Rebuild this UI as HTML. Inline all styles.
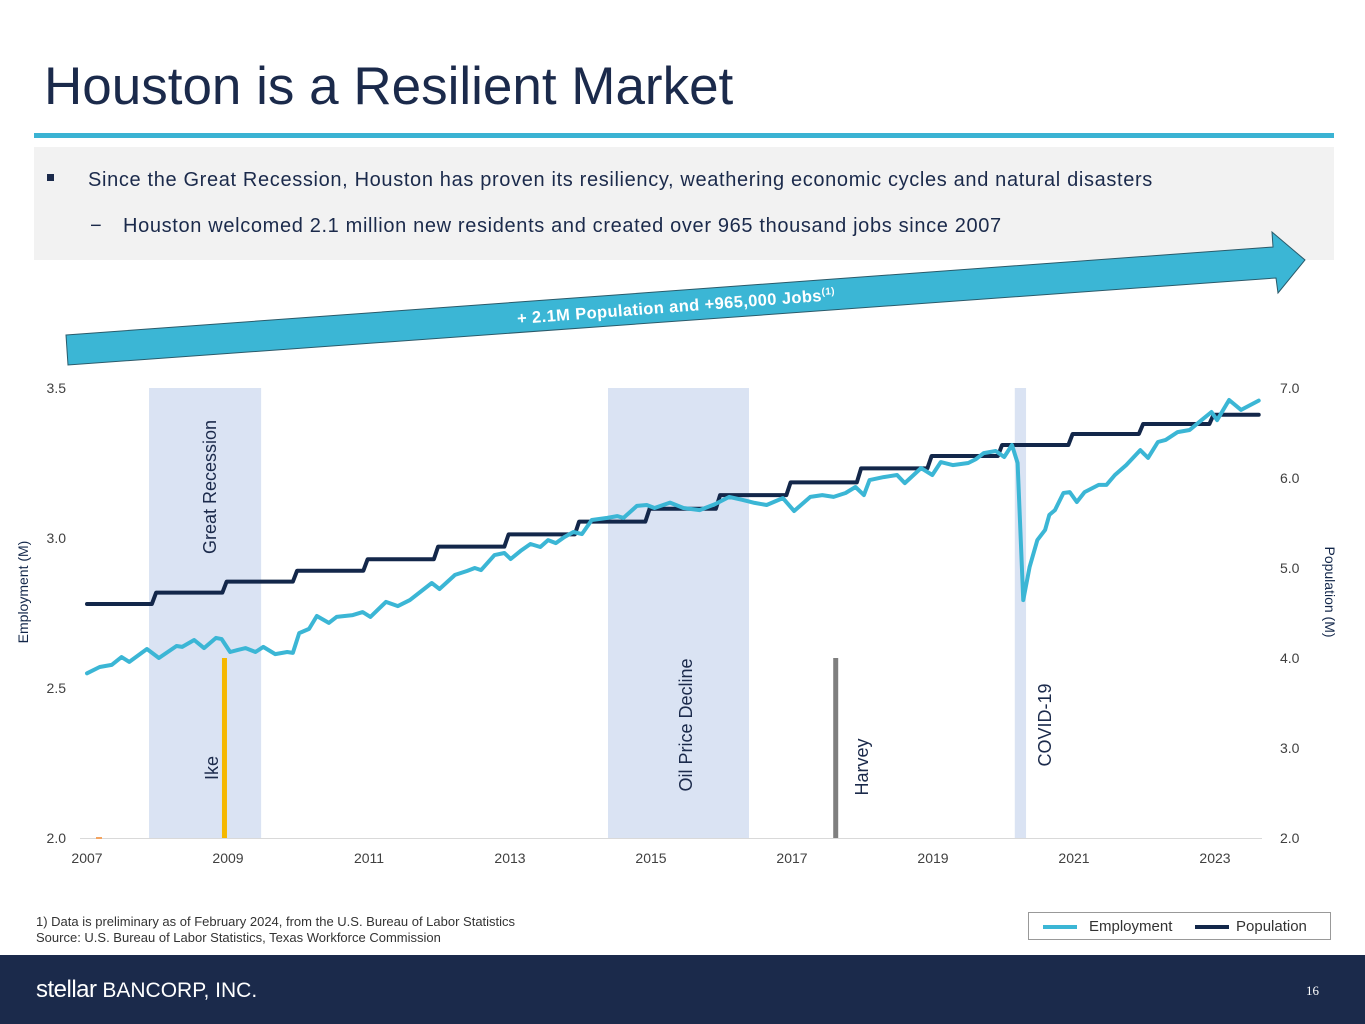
<!DOCTYPE html>
<html><head><meta charset="utf-8">
<style>
body{margin:0;width:1365px;height:1024px;overflow:hidden;background:#fff;font-family:"Liberation Sans",sans-serif;position:relative}
.abs{position:absolute}
</style></head>
<body>
<div class="abs" style="left:44px;top:56px;font-size:53px;color:#1b2a4b;white-space:nowrap">Houston is a Resilient Market</div>
<div class="abs" style="left:34px;top:133px;width:1300px;height:5px;background:#3bb3d3"></div>
<div class="abs" style="left:34px;top:147px;width:1300px;height:113px;background:#f2f2f2"></div>
<div class="abs" style="left:47px;top:174px;width:7px;height:7px;background:#1b2a4b"></div>
<div class="abs" style="left:88px;top:169px;font-size:20px;letter-spacing:0.65px;color:#1b2a4b;white-space:nowrap">Since the Great Recession, Houston has proven its resiliency, weathering economic cycles and natural disasters</div>
<div class="abs" style="left:90px;top:215px;font-size:20px;color:#1b2a4b">−</div>
<div class="abs" style="left:123px;top:215px;font-size:20px;letter-spacing:0.65px;color:#1b2a4b;white-space:nowrap">Houston welcomed 2.1 million new residents and created over 965 thousand jobs since 2007</div>

<svg class="abs" style="left:0;top:0" width="1365" height="1024">
<polygon points="66,335 1273,247 1272,232 1305,260 1278,293 1276,278 68,365" fill="#3bb6d5" stroke="#2a5a6a" stroke-width="1"/>
<text x="676" y="312" text-anchor="middle" transform="rotate(-4.3 676 305)" fill="#fff" font-weight="bold" font-size="16.5" letter-spacing="0.4" font-family="Liberation Sans, sans-serif">+ 2.1M Population and +965,000 Jobs<tspan font-size="10" dy="-6">(1)</tspan></text>
</svg>

<svg id="chart" class="abs" style="left:0;top:0" width="1365" height="1024"></svg>

<div class="abs" style="left:36px;top:914px;font-size:13px;color:#333;line-height:16px">1) Data is preliminary as of February 2024, from the U.S. Bureau of Labor Statistics<br>Source: U.S. Bureau of Labor Statistics, Texas Workforce Commission</div>
<div class="abs" style="left:1028px;top:912px;width:301px;height:26px;border:1px solid #999;background:#fff">
 <div class="abs" style="left:14px;top:12px;width:34px;height:4px;background:#3bb6d5"></div>
 <div class="abs" style="left:60px;top:5px;font-size:15px;color:#333">Employment</div>
 <div class="abs" style="left:166px;top:12px;width:34px;height:4px;background:#13274a"></div>
 <div class="abs" style="left:207px;top:5px;font-size:15px;color:#333">Population</div>
</div>
<div class="abs" style="left:0;top:955px;width:1365px;height:69px;background:#1b2a4b"></div>
<div class="abs" style="left:36px;top:976px;color:#fff;font-size:24px;white-space:nowrap"><span style="letter-spacing:-0.5px">stellar</span><span style="font-size:21px"> BANCORP, INC.</span></div>
<div class="abs" style="left:1306px;top:983px;color:#fff;font-size:13px;font-family:'Liberation Serif',serif">16</div>

<script>
const empYears=[2007.0,2007.18,2007.35,2007.49,2007.6,2007.85,2008.02,2008.27,2008.35,2008.52,2008.66,2008.83,2008.91,2009.03,2009.14,2009.25,2009.39,2009.5,2009.67,2009.84,2009.92,2010.01,2010.15,2010.26,2010.43,2010.54,2010.77,2010.91,2011.02,2011.24,2011.41,2011.58,2011.89,2012.0,2012.22,2012.39,2012.5,2012.59,2012.78,2012.92,2013.01,2013.15,2013.29,2013.43,2013.54,2013.65,2013.77,2013.9,2014.02,2014.16,2014.38,2014.52,2014.61,2014.8,2014.94,2015.05,2015.27,2015.46,2015.69,2015.91,2016.11,2016.3,2016.47,2016.64,2016.87,2017.03,2017.26,2017.43,2017.59,2017.76,2017.9,2018.02,2018.1,2018.3,2018.49,2018.6,2018.83,2018.99,2019.11,2019.28,2019.5,2019.61,2019.72,2019.89,2020.01,2020.12,2020.2,2020.28,2020.37,2020.48,2020.59,2020.65,2020.73,2020.85,2020.94,2021.04,2021.15,2021.35,2021.46,2021.58,2021.74,2021.94,2022.05,2022.19,2022.3,2022.47,2022.64,2022.81,2022.95,2023.03,2023.2,2023.37,2023.62];
const employment=[2.549,2.57,2.577,2.603,2.587,2.63,2.6,2.64,2.637,2.66,2.633,2.667,2.663,2.62,2.627,2.633,2.62,2.637,2.613,2.62,2.617,2.683,2.697,2.74,2.717,2.737,2.743,2.753,2.737,2.787,2.773,2.793,2.85,2.83,2.877,2.89,2.9,2.893,2.943,2.95,2.93,2.957,2.98,2.97,2.993,2.983,3.003,3.02,3.013,3.06,3.067,3.073,3.067,3.107,3.11,3.1,3.118,3.1,3.093,3.113,3.137,3.127,3.117,3.11,3.133,3.09,3.137,3.143,3.137,3.15,3.17,3.143,3.193,3.203,3.21,3.183,3.233,3.21,3.253,3.243,3.25,3.263,3.283,3.29,3.27,3.31,3.25,2.793,2.903,2.993,3.027,3.077,3.093,3.15,3.153,3.12,3.153,3.177,3.177,3.21,3.243,3.293,3.267,3.32,3.327,3.353,3.36,3.393,3.42,3.393,3.46,3.427,3.458];
const popYears=[2007,2008,2009,2010,2011,2012,2013,2014,2015,2016,2017,2018,2019,2020,2021,2022,2023];
const population=[4.60,4.726,4.848,4.97,5.097,5.237,5.374,5.515,5.658,5.81,5.952,6.107,6.244,6.367,6.489,6.60,6.703];
const popEnd=2023.62;
const xTicks=[2007,2009,2011,2013,2015,2017,2019,2021,2023];
const leftTicks=[2.0,2.5,3.0,3.5];
const rightTicks=[2.0,3.0,4.0,5.0,6.0,7.0];
const bands=[{name:"great-recession",from:2007.88,to:2009.47,label:"Great Recession"},{name:"oil-price-decline",from:2014.39,to:2016.39,label:"Oil Price Decline"},{name:"covid-19",from:2020.16,to:2020.32,label:"COVID-19"}];
const events=[{name:"ike",year:2008.95,top:2.6,color:"#f5b800",label:"Ike"},{name:"harvey",year:2017.62,top:2.6,color:"#7f7f7f",label:"Harvey"}];

const X=y=>87+(y-2007)*70.5;
const YL=v=>838-(v-2.0)*300;
const YR=v=>838-(v-2.0)*90;
const svg=document.getElementById('chart');
const NS='http://www.w3.org/2000/svg';
function mk(tag,attrs,parent){const e=document.createElementNS(NS,tag);for(const k in attrs)e.setAttribute(k,attrs[k]);(parent||svg).appendChild(e);return e;}

bands.forEach(b=>{
 const r=mk('rect',{x:X(b.from),y:388,width:X(b.to)-X(b.from),height:450,fill:'#dae3f3'});
 
 
});
events.forEach(ev=>{
 const r=mk('rect',{x:X(ev.year)-2.5,y:YL(ev.top),width:5,height:838-YL(ev.top),fill:ev.color});
 
 
});
const ax=mk('line',{x1:80,y1:838.5,x2:1262,y2:838.5,stroke:'#d9d9d9','stroke-width':1});


mk('line',{x1:96,y1:838,x2:102,y2:838,stroke:'#f4a460','stroke-width':2});

function txt(s,attrs,name){const t=mk('text',Object.assign({'font-family':'Liberation Sans, sans-serif','font-size':14,fill:'#404040'},attrs));t.textContent=s;return t;}
xTicks.forEach(y=>txt(String(y),{x:X(y),y:863,'text-anchor':'middle'},'x-tick-'+y));
leftTicks.forEach(v=>txt(v.toFixed(1),{x:66,y:YL(v)+5,'text-anchor':'end'},'left-tick-'+v));
rightTicks.forEach(v=>txt(v.toFixed(1),{x:1280,y:YR(v)+5,'text-anchor':'start'},'right-tick-'+v));
txt('Employment (M)',{x:0,y:0,transform:'translate(28,592) rotate(-90)','text-anchor':'middle',fill:'#13274a'},'y-axis-title-left');
txt('Population (M)',{x:0,y:0,transform:'translate(1325,592) rotate(90)','text-anchor':'middle',fill:'#13274a'},'y-axis-title-right');

let pts=[];
population.forEach((v,i)=>{
 const yr=popYears[i];
 if(i===0){pts.push([X(yr),YR(v)]);}
 else{pts.push([X(yr-0.08),YR(population[i-1])]);pts.push([X(yr-0.02),YR(v)]);}
});
pts.push([X(popEnd),YR(population[population.length-1])]);
const pl=mk('polyline',{points:pts.map(p=>p.join(',')).join(' '),fill:'none',stroke:'#13274a','stroke-width':4,'stroke-linejoin':'round','stroke-linecap':'round'});



const el=mk('polyline',{points:empYears.map((y,i)=>X(y)+','+YL(employment[i])).join(' '),fill:'none',stroke:'#3bb6d5','stroke-width':4,'stroke-linejoin':'round','stroke-linecap':'round'});



function vlabel(s,cx,cy,name){txt(s,{x:0,y:0,transform:`translate(${cx},${cy}) rotate(-90)`,'text-anchor':'middle','font-size':18,fill:'#1b2a4b'},name);}
vlabel('Great Recession',216,487,'label-great-recession');
vlabel('Ike',218,768,'label-ike');
vlabel('Oil Price Decline',692,725,'label-oil-price-decline');
vlabel('Harvey',868,767,'label-harvey');
vlabel('COVID-19',1051,725,'label-covid-19');
</script>
</body></html>
